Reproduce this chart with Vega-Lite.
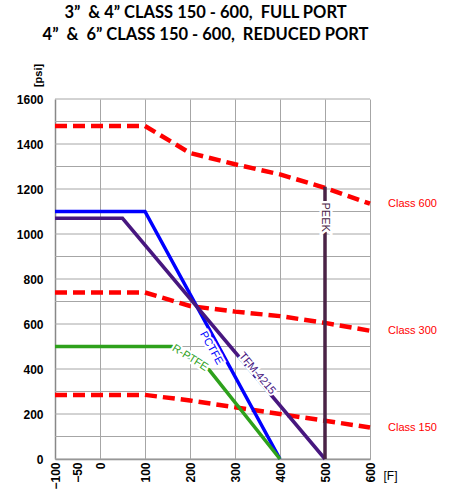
{
  "$schema": "https://vega.github.io/schema/vega-lite/v6.json",
  "autosize": "none",
  "width": 315,
  "height": 360,
  "padding": {"left": 55, "top": 99, "right": 80, "bottom": 37},
  "background": "white",
  "title": {
    "text": ["3” \u00a0& 4” CLASS 150 - 600, \u00a0FULL PORT", "4” \u00a0& \u00a06” CLASS 150 - 600, \u00a0REDUCED PORT"],
    "font": "Lato",
    "fontWeight": "bold",
    "fontSize": 16.5,
    "lineHeight": 21.5,
    "color": "black",
    "anchor": "middle",
    "frame": "group",
    "dx": -7,
    "offset": 20
  },
  "datasets": {
    "lines": [
      {"series": "Class 600", "temp": -100, "psi": 1480},
      {"series": "Class 600", "temp": 100, "psi": 1480},
      {"series": "Class 600", "temp": 200, "psi": 1360},
      {"series": "Class 600", "temp": 300, "psi": 1310},
      {"series": "Class 600", "temp": 400, "psi": 1265},
      {"series": "Class 600", "temp": 500, "psi": 1205},
      {"series": "Class 600", "temp": 600, "psi": 1135},
      {"series": "Class 300", "temp": -100, "psi": 740},
      {"series": "Class 300", "temp": 100, "psi": 740},
      {"series": "Class 300", "temp": 200, "psi": 680},
      {"series": "Class 300", "temp": 300, "psi": 655},
      {"series": "Class 300", "temp": 400, "psi": 635},
      {"series": "Class 300", "temp": 500, "psi": 605},
      {"series": "Class 300", "temp": 600, "psi": 570},
      {"series": "Class 150", "temp": -100, "psi": 285},
      {"series": "Class 150", "temp": 100, "psi": 285},
      {"series": "Class 150", "temp": 200, "psi": 260},
      {"series": "Class 150", "temp": 300, "psi": 230},
      {"series": "Class 150", "temp": 400, "psi": 200},
      {"series": "Class 150", "temp": 500, "psi": 170},
      {"series": "Class 150", "temp": 600, "psi": 140},
      {"series": "PCTFE", "temp": -100, "psi": 1100},
      {"series": "PCTFE", "temp": 100, "psi": 1100},
      {"series": "PCTFE", "temp": 400, "psi": 0},
      {"series": "TFM-4215", "temp": -100, "psi": 1070},
      {"series": "TFM-4215", "temp": 50, "psi": 1070},
      {"series": "TFM-4215", "temp": 500, "psi": 0},
      {"series": "R-PTFE", "temp": -100, "psi": 500},
      {"series": "R-PTFE", "temp": 160, "psi": 500},
      {"series": "R-PTFE", "temp": 243, "psi": 395},
      {"series": "R-PTFE", "temp": 400, "psi": 0},
      {"series": "PEEK", "temp": 500, "psi": 0},
      {"series": "PEEK", "temp": 500, "psi": 1210}
    ],
    "labels": [
      {"series": "PCTFE", "temp": 247, "psi": 493},
      {"series": "TFM-4215", "temp": 349, "psi": 380},
      {"series": "R-PTFE", "temp": 200, "psi": 449},
      {"series": "PEEK", "temp": 500, "psi": 1075}
    ],
    "classLabels": [
      {"series": "Class 600", "temp": 600, "psi": 1135},
      {"series": "Class 300", "temp": 600, "psi": 570},
      {"series": "Class 150", "temp": 600, "psi": 140}
    ]
  },
  "encoding": {
    "x": {
      "field": "temp",
      "type": "quantitative",
      "scale": {"domain": [-100, 600], "nice": false, "zero": false},
      "axis": {
        "values": [-100, -50, 0, 100, 200, 300, 400, 500, 600],
        "format": "d",
        "labelAngle": -90,
        "labelFont": "Liberation Sans",
        "labelFontWeight": "bold",
        "labelFontSize": 12,
        "labelColor": "black",
        "labelPadding": 3,
        "ticks": false,
        "grid": true,
        "gridColor": "#a6a6a6",
        "gridWidth": 1,
        "gridOpacity": {"condition": {"test": "datum.value < 0", "value": 0}, "value": 1},
        "domainColor": "#888888",
        "domainWidth": 1.5,
        "title": "[F]",
        "titleFont": "Liberation Sans",
        "titleFontWeight": "normal",
        "titleFontSize": 12,
        "titleColor": "black",
        "titleAlign": "left",
        "titleBaseline": "middle",
        "titleAnchor": null,
        "titleX": 328,
        "titleY": 16
      }
    },
    "y": {
      "field": "psi",
      "type": "quantitative",
      "scale": {"domain": [0, 1600], "nice": false},
      "axis": {
        "values": [0, 200, 400, 600, 800, 1000, 1200, 1400, 1600],
        "format": "d",
        "labelFont": "Liberation Sans",
        "labelFontWeight": "bold",
        "labelFontSize": 12,
        "labelColor": "black",
        "labelPadding": 12,
        "ticks": false,
        "grid": false,
        "domainColor": "#888888",
        "domainWidth": 1.5,
        "title": "[psi]",
        "titleFont": "Liberation Sans",
        "titleFontWeight": "bold",
        "titleFontSize": 11,
        "titleColor": "black",
        "titleAngle": -90,
        "titleAlign": "center",
        "titleBaseline": "middle",
        "titleX": -17,
        "titleY": -24
      }
    }
  },
  "layer": [
    {
      "data": {"values": [{"v": 0}, {"v": 100}, {"v": 200}, {"v": 300}, {"v": 400}, {"v": 500}, {"v": 600}, {"v": 700}, {"v": 800}, {"v": 900}, {"v": 1000}, {"v": 1100}, {"v": 1200}, {"v": 1300}, {"v": 1400}, {"v": 1500}, {"v": 1600}]},
      "mark": {"type": "rule", "color": "#a6a6a6", "strokeWidth": 1},
      "encoding": {"y": {"field": "v", "type": "quantitative"}, "x": null}
    },
    {
      "data": {"name": "lines"},
      "transform": [{"filter": "indexof(datum.series, 'Class') === 0"}],
      "mark": {"type": "line", "strokeWidth": 4.5, "strokeDash": [12, 6], "strokeCap": "butt"},
      "encoding": {
        "detail": {"field": "series"},
        "color": {"value": "#ff0000"}
      }
    },
    {
      "data": {"name": "lines"},
      "transform": [{"filter": "indexof(datum.series, 'Class') !== 0"}],
      "mark": {"type": "line", "strokeWidth": 3.5},
      "encoding": {
        "color": {
          "field": "series",
          "type": "nominal",
          "scale": {"domain": ["PCTFE", "TFM-4215", "R-PTFE", "PEEK"], "range": ["#0000ff", "#47177f", "#2ea11c", "#4a2346"]},
          "legend": null
        }
      }
    },
    {
      "data": {"name": "labels"},
      "transform": [{"filter": "datum.series === 'PCTFE'"}],
      "layer": [
        {"mark": {"type": "text", "angle": 61, "font": "Liberation Sans", "fontSize": 11, "stroke": "white", "strokeWidth": 4, "fill": "white"}, "encoding": {"text": {"field": "series"}}},
        {"mark": {"type": "text", "angle": 61, "font": "Liberation Sans", "fontSize": 11, "fill": "#0000ff"}, "encoding": {"text": {"field": "series"}}}
      ]
    },
    {
      "data": {"name": "labels"},
      "transform": [{"filter": "datum.series === 'TFM-4215'"}],
      "layer": [
        {"mark": {"type": "text", "angle": 50, "font": "Liberation Sans", "fontSize": 11, "stroke": "white", "strokeWidth": 4, "fill": "white"}, "encoding": {"text": {"field": "series"}}},
        {"mark": {"type": "text", "angle": 50, "font": "Liberation Sans", "fontSize": 11, "fill": "#47177f"}, "encoding": {"text": {"field": "series"}}}
      ]
    },
    {
      "data": {"name": "labels"},
      "transform": [{"filter": "datum.series === 'R-PTFE'"}],
      "layer": [
        {"mark": {"type": "text", "angle": 32, "font": "Liberation Sans", "fontSize": 11, "stroke": "white", "strokeWidth": 4, "fill": "white"}, "encoding": {"text": {"field": "series"}}},
        {"mark": {"type": "text", "angle": 32, "font": "Liberation Sans", "fontSize": 11, "fill": "#2ea11c"}, "encoding": {"text": {"field": "series"}}}
      ]
    },
    {
      "data": {"name": "labels"},
      "transform": [{"filter": "datum.series === 'PEEK'"}],
      "layer": [
        {"mark": {"type": "text", "angle": 90, "font": "Liberation Sans", "fontSize": 11, "stroke": "white", "strokeWidth": 5, "fill": "white"}, "encoding": {"text": {"field": "series"}}},
        {"mark": {"type": "text", "angle": 90, "font": "Liberation Sans", "fontSize": 11, "fill": "#4a2346"}, "encoding": {"text": {"field": "series"}}}
      ]
    },
    {
      "data": {"name": "classLabels"},
      "mark": {"type": "text", "align": "left", "baseline": "middle", "dx": 18, "font": "Liberation Sans", "fontSize": 11, "fill": "#ff0000"},
      "encoding": {"text": {"field": "series"}}
    }
  ],
  "config": {
    "view": {"stroke": null},
    "text": {"baseline": "middle", "align": "center"}
  }
}
